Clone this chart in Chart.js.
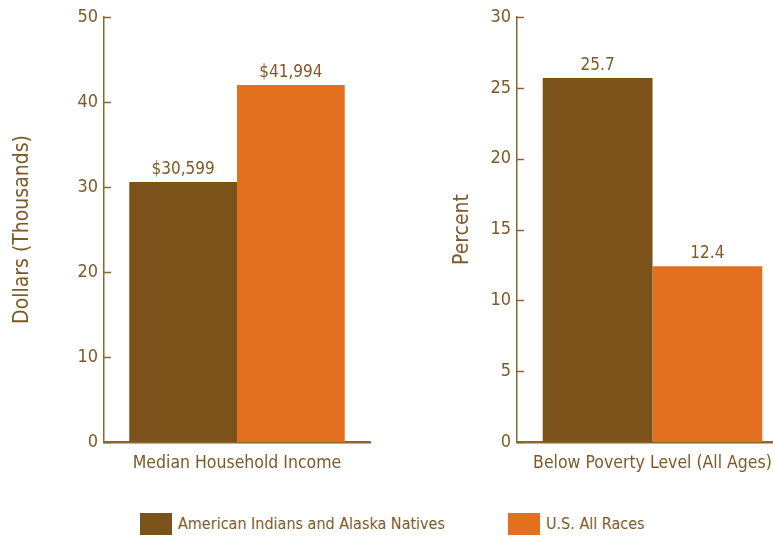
<!DOCTYPE html>
<html>
<head>
<meta charset="utf-8">
<script src="https://cdn.jsdelivr.net/npm/chart.js@4/dist/chart.umd.min.js"></script>
<style>
  body { margin: 0; width: 773px; height: 536px; overflow: hidden; background: #fff; position: relative;
         font-family: 'Liberation Sans Narrow', 'DejaVu Sans Condensed', sans-serif; color: #7d5a28; }
  #incomeChart { position: absolute; left: 0; top: 0; }
  #povertyChart { position: absolute; left: 440px; top: 0; }
  .legend { position: absolute; top: 513px; font-size: 16px; line-height: 22px; white-space: nowrap; }
  .legend span.box { display: inline-block; width: 32px; height: 22px; vertical-align: top; margin-right: 6px; }
</style>
</head>
<body>
<canvas id="incomeChart" width="380" height="485"></canvas>
<canvas id="povertyChart" width="350" height="485"></canvas>
<div class="legend" style="left:140px"><span class="box" id="box0"></span><span id="name0"></span></div>
<div class="legend" style="left:508px"><span class="box" id="box1"></span><span id="name1"></span></div>

<script>
// Series
const seriesNames = ['American Indians and Alaska Natives', 'U.S. All Races'];
const seriesColors = ['#7b531a', '#e2701f'];

// Left panel: income (thousands of dollars)
const incomeCategory = ['Median Household Income'];
const incomeValues = [30.599, 41.994];
const incomeLabels = ['$30,599', '$41,994'];
const incomeTicks = [0, 10, 20, 30, 40, 50];

// Right panel: poverty (percent)
const povertyCategory = ['Below Poverty Level (All Ages)'];
const povertyValues = [25.7, 12.4];
const povertyLabels = ['25.7', '12.4'];
const povertyTicks = [0, 5, 10, 15, 20, 25, 30];

const textColor = '#7d5a28';
const axisColor = '#8a6633';
const fontFamily = "'Liberation Sans Narrow', 'DejaVu Sans Condensed', sans-serif";

// Small tick marks pointing into the plot, plus the value over each bar
const barExtras = {
    id: 'barExtras',
    afterDraw(chart) {
        const ctx = chart.ctx;
        const y = chart.scales.y;
        ctx.save();
        ctx.strokeStyle = axisColor;
        ctx.lineWidth = 1.5;
        y.ticks.forEach(t => {
            const py = Math.round(y.getPixelForValue(t.value)) + 0.5;
            ctx.beginPath();
            ctx.moveTo(y.right, py);
            ctx.lineTo(y.right + 7, py);
            ctx.stroke();
        });

        ctx.fillStyle = textColor;
        ctx.font = '17px ' + fontFamily;
        ctx.textAlign = 'center';
        ctx.textBaseline = 'bottom';
        chart.data.datasets.forEach((ds, i) => {
            const bar = chart.getDatasetMeta(i).data[0];
            ctx.fillText(ds.valueLabel, bar.x, bar.y - 4);
        });
        ctx.restore();
    }
};

function makePanel(canvasId, category, values, labels, ticks, title, axisWidth, padRight) {
    new Chart(document.getElementById(canvasId), {
        type: 'bar',
        data: {
            labels: category,
            datasets: values.map((v, i) => ({
                label: seriesNames[i],
                data: [v],
                valueLabel: labels[i],
                backgroundColor: seriesColors[i],
                categoryPercentage: 0.81,
                barPercentage: 1
            }))
        },
        options: {
            responsive: false,
            animation: false,
            layout: { padding: { top: 17, right: padRight, bottom: 0, left: 0 } },
            plugins: { legend: { display: false }, tooltip: { enabled: false } },
            scales: {
                x: {
                    grid: { display: false, drawTicks: false },
                    border: { color: axisColor, width: 2.5 },
                    ticks: { color: textColor, font: { family: fontFamily, size: 17.5 }, padding: 11 }
                },
                y: {
                    min: ticks[0],
                    max: ticks[ticks.length - 1],
                    afterBuildTicks(scale) { scale.ticks = ticks.map(v => ({ value: v })); },
                    afterFit(scale) { scale.width = axisWidth; },
                    grid: { display: false, drawTicks: false },
                    border: { color: axisColor, width: 1.5 },
                    ticks: { color: textColor, font: { family: fontFamily, size: 18 }, padding: 6 },
                    title: { display: true, text: title, color: textColor,
                             font: { family: fontFamily, size: 21 }, padding: { top: 10, bottom: 0 } }
                }
            }
        },
        plugins: [barExtras]
    });
}

makePanel('incomeChart', incomeCategory, incomeValues, incomeLabels, incomeTicks, 'Dollars (Thousands)', 104, 10);
makePanel('povertyChart', povertyCategory, povertyValues, povertyLabels, povertyTicks, 'Percent', 77, 2);

// Shared legend under both panels
seriesNames.forEach((name, i) => {
    document.getElementById('box' + i).style.background = seriesColors[i];
    document.getElementById('name' + i).textContent = name;
});
</script>
</body>
</html>
